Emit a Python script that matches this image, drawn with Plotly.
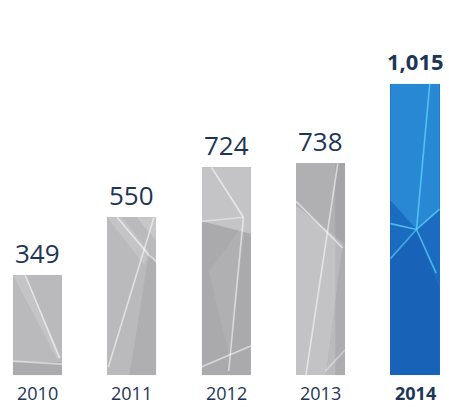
import plotly.graph_objects as go

# Yearly totals
years = ["2010", "2011", "2012", "2013", "2014"]
values = [349, 550, 724, 738, 1015]
value_labels = ["349", "550", "724", "738", "1,015"]

# Styling
GRAY = "#bababc"
BLUE = "#1b6cc0"
TEXT = "#1d3656"
BAR_W = 0.52
highlight = years[-1]

bar_colors = [BLUE if y == highlight else GRAY for y in years]
xs = list(range(len(years)))

fig = go.Figure()
fig.add_trace(go.Bar(
    x=xs, y=values, width=BAR_W,
    marker=dict(color=bar_colors, line=dict(width=0)),
    hoverinfo="skip",
))

# Crystal facets, given in bar-relative units (u across, v up), per bar
facets = {
    0: [("M0,0.13 L1,0.13 L1,0 L0,0 Z", "rgba(120,120,124,0.22)"),
        ("M0,1 L0.25,1 L0.98,0.18 L0.9,0.16 Z", "rgba(255,255,255,0.15)")],
    1: [("M0,1 L0.3,1 L0.85,0.78 L0.75,0.7 Z", "rgba(255,255,255,0.15)"),
        ("M0.6,1 L1,1 L1,0.85 Z", "rgba(255,255,255,0.2)"),
        ("M0.85,0.78 L1,0.7 L1,0 L0.45,0 Z", "rgba(110,110,114,0.14)")],
    2: [("M0,1 L1,1 L1,0.68 L0,0.74 Z", "rgba(255,255,255,0.15)"),
        ("M0,0.74 L1,0.68 L1,0 L0,0 Z", "rgba(100,100,104,0.18)"),
        ("M0.15,0.5 L0.9,0.74 L0.55,0.1 Z", "rgba(255,255,255,0.08)")],
    3: [("M0,1 L1,1 L1,0.62 L0,0.8 Z", "rgba(110,110,114,0.12)"),
        ("M0.8,1 L1,1 L1,0 L0.8,0 Z", "rgba(100,100,104,0.14)"),
        ("M0,0.8 L0.95,0.62 L0.6,0 L0,0 Z", "rgba(255,255,255,0.14)")],
    4: [("M0,1 L1,1 L1,0.57 L0.53,0.5 L0,0.6 Z", "rgba(60,170,235,0.45)"),
        ("M0,0.4 L0.53,0.5 L1,0.3 L1,0 L0,0 Z", "rgba(10,60,150,0.18)")],
}
lines = {
    0: [("M0.25,1 L0.95,0.17", "rgba(255,255,255,0.55)"),
        ("M0,0.14 L1,0.11", "rgba(255,255,255,0.5)")],
    1: [("M0.2,1 L0.85,0.76", "rgba(255,255,255,0.6)"),
        ("M0.95,1 L0.02,0.05", "rgba(255,255,255,0.55)"),
        ("M0.85,0.76 L1,0.72", "rgba(255,255,255,0.5)")],
    2: [("M0.2,1 L0.85,0.76", "rgba(255,255,255,0.6)"),
        ("M0.85,0.76 L0.55,0.02", "rgba(255,255,255,0.55)"),
        ("M0,0.74 L0.85,0.76", "rgba(255,255,255,0.4)"),
        ("M0,0.04 L1,0.14", "rgba(255,255,255,0.55)")],
    3: [("M0,0.82 L0.95,0.6", "rgba(255,255,255,0.55)"),
        ("M0.85,1 L0.2,0", "rgba(255,255,255,0.55)"),
        ("M0.6,0.02 L1,0.12", "rgba(255,255,255,0.4)")],
    4: [("M0.8,1 L0.53,0.5", "rgba(90,215,250,0.75)"),
        ("M0,0.52 L0.53,0.5 L1,0.57", "rgba(90,215,250,0.75)"),
        ("M0.53,0.5 L0.93,0.35", "rgba(90,215,250,0.7)"),
        ("M0.53,0.5 L0,0.4", "rgba(90,215,250,0.6)")],
}


def to_data(path, i):
    """Map a bar-relative path onto data coordinates of bar i."""
    left = xs[i] - BAR_W / 2
    out = []
    for tok in path.split():
        cmd = tok[0] if tok[0] in "MLZ" else ""
        body = tok[1:] if cmd else tok
        if cmd == "Z":
            out.append("Z")
            continue
        u, v = (float(t) for t in body.split(","))
        out.append(f"{cmd}{left + u * BAR_W:.4f},{v * values[i]:.2f}")
    return " ".join(out)


shapes = []
for i in xs:
    for p, col in facets.get(i, []):
        shapes.append(dict(type="path", xref="x", yref="y", path=to_data(p, i),
                           fillcolor=col, line=dict(width=0), layer="above"))
    for p, col in lines.get(i, []):
        shapes.append(dict(type="path", xref="x", yref="y", path=to_data(p, i),
                           line=dict(color=col, width=1.6), layer="above"))

annotations = []
for i, (y, v, lab) in enumerate(zip(years, values, value_labels)):
    bold = y == highlight
    annotations.append(dict(
        x=xs[i], y=v, xref="x", yref="y", yanchor="bottom", showarrow=False,
        yshift=6 if bold else 2,
        text=f"<b>{lab}</b>" if bold else lab,
        font=dict(family="Open Sans", size=22 if bold else 26, color=TEXT),
    ))
    annotations.append(dict(
        x=xs[i], y=0, xref="x", yref="y", yanchor="top", showarrow=False,
        yshift=-4,
        text=f"<b>{y}</b>" if bold else y,
        font=dict(family="Open Sans", size=18, color=TEXT),
    ))

fig.update_layout(
    width=449, height=407,
    margin=dict(l=0, r=0, t=0, b=0),
    paper_bgcolor="white", plot_bgcolor="white",
    showlegend=False,
    bargap=0,
    xaxis=dict(range=[-0.397, 4.36], visible=False, fixedrange=True),
    yaxis=dict(range=[-111, 1307], visible=False, fixedrange=True),
    shapes=shapes,
    annotations=annotations,
)

fig.write_html("out.html")
